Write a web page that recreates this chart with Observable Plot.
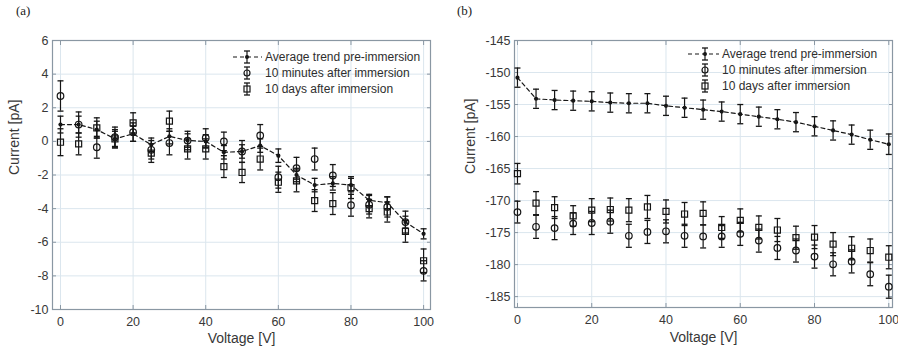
<!DOCTYPE html>
<html><head><meta charset="utf-8">
<script src="https://cdn.jsdelivr.net/npm/d3@7"></script>
<script src="https://cdn.jsdelivr.net/npm/@observablehq/plot@0.6"></script>
<style>
body{margin:0;background:#fff;}
#wrap{position:relative;width:898px;height:355px;overflow:hidden;font-family:"Liberation Sans",Arial,sans-serif;background:#fff;}
.panel{position:absolute;top:0;}
.plabel{position:absolute;top:3px;font-family:"Liberation Serif","Times New Roman",serif;font-size:13px;color:#222;}
.legend{position:absolute;font-size:12px;color:#2e2e2e;line-height:16px;}
.legend .row{position:relative;height:16px;white-space:nowrap;}
.legend svg{position:absolute;left:0;top:0;overflow:visible;}
</style></head><body>
<div id="wrap">
  <div class="plabel" style="left:16px">(a)</div>
  <div class="plabel" style="left:457px">(b)</div>
  <div id="pa" class="panel" style="left:0px"></div>
  <div id="pb" class="panel" style="left:449px"></div>
</div>
<script>
// ---------- data ----------
const voltage = [0,5,10,15,20,25,30,35,40,45,50,55,60,65,70,75,80,85,90,95,100];
const xTicks = [0,20,40,60,80,100];
const legendLabels = ["Average trend pre-immersion","10 minutes after immersion","10 days after immersion"];

// panel (a)
const aTicksY = [-10,-8,-6,-4,-2,0,2,4,6];
const aAvg    = [1.0,1.0,0.7,0.15,0.45,-0.2,0.3,0.05,0.0,-0.65,-0.6,-0.25,-0.85,-2.0,-2.6,-2.5,-2.6,-3.5,-3.65,-4.8,-5.5];
const aAvgErr = [0.5,0.5,0.5,0.45,0.45,0.4,0.45,0.4,0.4,0.4,0.4,0.4,0.4,0.4,0.4,0.4,0.4,0.35,0.35,0.35,0.3];
const aMin    = [2.7,1.0,-0.35,0.25,0.55,-0.5,-0.1,0.05,0.2,0.0,-0.6,0.35,-2.13,-1.6,-1.05,-2.03,-3.8,-3.77,-3.9,-4.8,-7.7];
const aMinErr = [0.9,0.75,0.65,0.6,0.55,0.55,0.7,0.55,0.55,0.55,0.65,0.65,0.65,0.65,0.65,0.65,0.65,0.55,0.6,0.65,0.6];
const aDay    = [-0.05,-0.15,0.8,0.15,1.1,-0.7,1.2,-0.45,-0.45,-1.5,-1.85,-1.05,-2.43,-2.35,-3.52,-3.7,-2.75,-4.0,-4.2,-5.35,-7.1];
const aDayErr = [0.8,0.65,0.6,0.55,0.6,0.55,0.6,0.6,0.6,0.65,0.6,0.65,0.6,0.65,0.65,0.65,0.65,0.55,0.6,0.65,0.7];

// panel (b)
const bTicksY = [-185,-180,-175,-170,-165,-160,-155,-150,-145];
const bAvg    = [-150.8,-154.1,-154.3,-154.4,-154.5,-154.7,-154.8,-154.8,-155.2,-155.5,-155.8,-156.1,-156.5,-156.9,-157.3,-157.75,-158.4,-159.05,-159.7,-160.5,-161.2];
const bAvgErr = [1.5,1.5,1.5,1.5,1.5,1.5,1.5,1.5,1.5,1.5,1.5,1.5,1.5,1.5,1.5,1.5,1.5,1.5,1.5,1.5,1.6];
const bMin    = [-171.8,-174.1,-174.3,-173.6,-173.5,-173.3,-175.5,-174.9,-174.8,-175.5,-175.6,-175.6,-175.2,-176.25,-177.4,-177.8,-178.75,-179.95,-179.5,-181.5,-183.45];
const bMinErr = [1.7,1.8,1.8,1.7,1.8,1.8,1.8,1.8,1.8,1.8,1.8,1.7,1.8,1.8,1.8,1.8,1.8,1.8,1.8,1.8,1.8];
const bDay    = [-165.8,-170.4,-171.1,-172.4,-171.5,-171.4,-171.5,-171.0,-171.7,-172.1,-172.0,-174.2,-173.1,-174.2,-174.6,-175.8,-175.7,-176.8,-177.45,-177.8,-178.85];
const bDayErr = [1.6,1.8,1.7,1.6,1.8,1.8,1.8,1.8,1.8,1.8,1.8,1.7,1.8,1.8,1.8,1.8,1.8,1.8,1.8,1.8,1.8];

// ---------- drawing ----------
const INK = "#161616";
const GRID = "#dbe6ee";
const FRAME = "#8a97a3";
const TEXT = "#383838";

const capSymbol = {draw(ctx, size){ const r = Math.sqrt(size/Math.PI); ctx.moveTo(-r,0); ctx.lineTo(r,0); }};

function rows(vals, errs){ return voltage.map((v,i)=>({v, y: vals[i], lo: vals[i]-errs[i], hi: vals[i]+errs[i]})); }

function errMarks(data, capR){
  return [
    Plot.ruleX(data, {x:"v", y1:"lo", y2:"hi", stroke: INK, strokeWidth: 1.2}),
    Plot.dot(data, {x:"v", y:"lo", symbol: capSymbol, r: capR, stroke: INK, strokeWidth: 1.3}),
    Plot.dot(data, {x:"v", y:"hi", symbol: capSymbol, r: capR, stroke: INK, strokeWidth: 1.3})
  ];
}

function panel(o){
  const avg = rows(o.avg, o.avgErr), mn = rows(o.min, o.minErr), dy = rows(o.day, o.dayErr);
  const fmt = d => String(d);
  return Plot.plot({
    width: o.width, height: 355,
    marginLeft: o.ml, marginRight: o.mr, marginTop: o.mt, marginBottom: o.mb,
    style: {fontFamily: '"Liberation Sans", Arial, sans-serif', fontSize: "12.5px", color: TEXT, background: "transparent"},
    x: {domain: o.xDomain, label: null},
    y: {domain: o.yDomain, label: null},
    marks: [
      Plot.gridX(xTicks, {stroke: GRID, strokeOpacity: 1}),
      Plot.gridY(o.yTicks, {stroke: GRID, strokeOpacity: 1}),
      Plot.axisX(xTicks, {anchor:"bottom", tickSize: 0, tickPadding: 8, tickFormat: fmt, fontSize: 12.5}),
      Plot.axisY(o.yTicks, {anchor:"left", tickSize: 0, tickPadding: 4, tickFormat: fmt, fontSize: 12.5}),
      Plot.axisX(xTicks, {anchor:"bottom", tickSize: -4, tickFormat: () => "", stroke: FRAME}),
      Plot.axisX(xTicks, {anchor:"top", tickSize: -4, tickFormat: () => "", stroke: FRAME}),
      Plot.axisY(o.yTicks, {anchor:"left", tickSize: -4, tickFormat: () => "", stroke: FRAME}),
      Plot.axisY(o.yTicks, {anchor:"right", tickSize: -4, tickFormat: () => "", stroke: FRAME}),
      Plot.frame({stroke: FRAME, strokeWidth: 1.2}),
      ...errMarks(avg, 3),
      ...errMarks(mn, 3),
      ...errMarks(dy, 3),
      Plot.line(avg, {x:"v", y:"y", stroke: INK, strokeWidth: 1.2, strokeDasharray: "4,3"}),
      Plot.dot(avg, {x:"v", y:"y", r: 2.1, fill: INK}),
      Plot.dot(mn, {x:"v", y:"y", r: 3.3, stroke: INK, strokeWidth: 1.2, fill: "none"}),
      Plot.dot(dy, {x:"v", y:"y", symbol: "square", r: 3.4, stroke: INK, strokeWidth: 1.2, fill: "none"}),
      Plot.text(["Current [pA]"], {frameAnchor: "left", rotate: -90, dx: o.yLabelDx, fontSize: 14, fill: TEXT}),
      Plot.text(["Voltage [V]"], {frameAnchor: "bottom", dy: o.xLabelDy, fontSize: 14, fill: TEXT})
    ]
  });
}

document.getElementById("pa").appendChild(panel({
  width: 445, ml: 52, mr: 15, mt: 40, mb: 46,
  xDomain: [-2.2, 101.9], yDomain: [-10, 6], yTicks: aTicksY,
  avg: aAvg, avgErr: aAvgErr, min: aMin, minErr: aMinErr, day: aDay, dayErr: aDayErr,
  yLabelDx: -38, xLabelDy: 33
}));
document.getElementById("pb").appendChild(panel({
  width: 449, ml: 65, mr: 6, mt: 40, mb: 48,
  xDomain: [-0.8, 101], yDomain: [-186.7, -145], yTicks: bTicksY,
  avg: bAvg, avgErr: bAvgErr, min: bMin, minErr: bMinErr, day: bDay, dayErr: bDayErr,
  yLabelDx: -44, xLabelDy: 34
}));

// ---------- legends ----------
function legend(left, top, symX, lineL, lineR, textX, barH){
  const div = document.createElement("div");
  div.className = "legend";
  div.style.left = left + "px"; div.style.top = top + "px";
  legendLabels.forEach((lab, i) => {
    const row = document.createElement("div");
    row.className = "row";
    const ns = "http://www.w3.org/2000/svg";
    const svg = document.createElementNS(ns, "svg");
    svg.setAttribute("width", textX); svg.setAttribute("height", 16);
    const cy = 8;
    let html = "";
    if (i === 0) html += `<line x1="${lineL}" x2="${lineR}" y1="${cy}" y2="${cy}" stroke="${INK}" stroke-width="1.2" stroke-dasharray="4,3"/>`;
    html += `<line x1="${symX}" x2="${symX}" y1="${cy-barH}" y2="${cy+barH}" stroke="${INK}" stroke-width="1.2"/>`;
    html += `<line x1="${symX-3}" x2="${symX+3}" y1="${cy-barH}" y2="${cy-barH}" stroke="${INK}" stroke-width="1.3"/>`;
    html += `<line x1="${symX-3}" x2="${symX+3}" y1="${cy+barH}" y2="${cy+barH}" stroke="${INK}" stroke-width="1.3"/>`;
    if (i === 0) html += `<circle cx="${symX}" cy="${cy}" r="2" fill="${INK}"/>`;
    if (i === 1) html += `<circle cx="${symX}" cy="${cy}" r="3" fill="none" stroke="${INK}" stroke-width="1.2"/>`;
    if (i === 2) html += `<rect x="${symX-3}" y="${cy-3}" width="6" height="6" fill="none" stroke="${INK}" stroke-width="1.2"/>`;
    svg.innerHTML = html;
    row.appendChild(svg);
    const t = document.createElement("span");
    t.textContent = lab;
    t.style.position = "absolute"; t.style.left = textX + "px"; t.style.top = "0px";
    row.appendChild(t);
    div.appendChild(row);
  });
  document.getElementById("wrap").appendChild(div);
}
legend(231, 49, 16, 2, 31, 34, 6);
legend(686, 46, 19, 2, 33, 36, 6);
</script>
</body></html>
